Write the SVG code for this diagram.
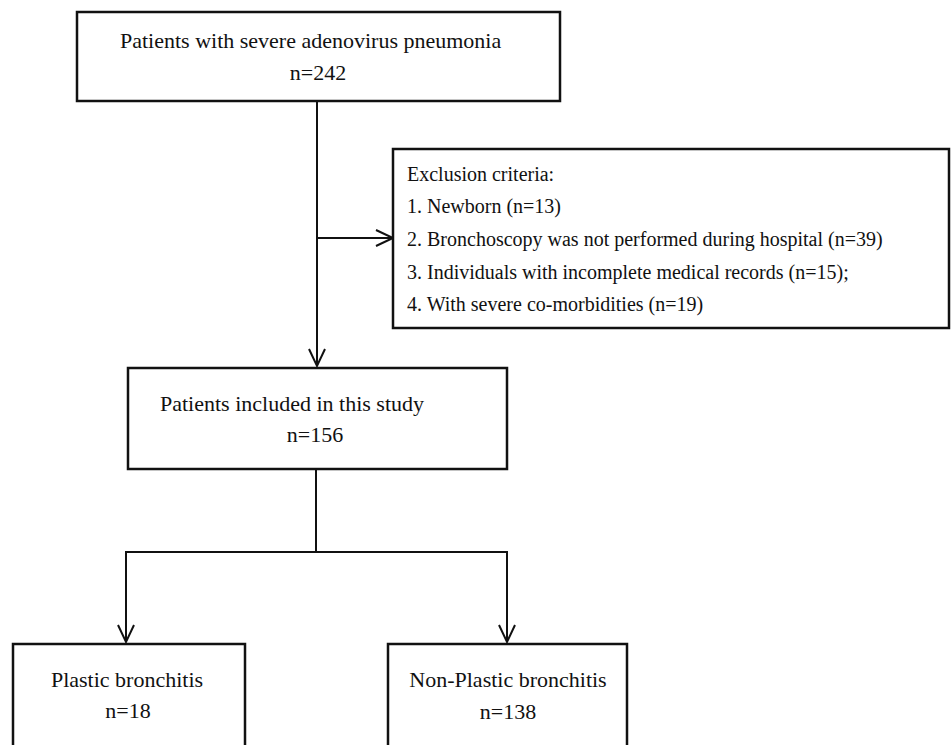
<svg xmlns="http://www.w3.org/2000/svg" width="951" height="745" viewBox="0 0 951 745">
<style>
.box{fill:#fff;stroke:#111;stroke-width:2.5}
.ln{fill:none;stroke:#111;stroke-width:2}
.ah{fill:none;stroke:#111;stroke-width:2;stroke-linejoin:miter}
text{font-family:"Liberation Serif","Times New Roman",serif;font-size:20px;fill:#111}
.c{text-anchor:middle}
.L{font-size:22px}
</style>
<rect width="951" height="745" fill="#fff"/>
<g id="connectors">
<path class="ln" d="M317,101 V364"/>
<path class="ah" d="M309,349 L317,366 L325,349"/>
<path class="ln" d="M317,238 H391"/>
<path class="ah" d="M376,230 L393,238 L376,246"/>
<path class="ln" d="M316,469 V552"/>
<path class="ln" d="M126,552 H508"/>
<path class="ln" d="M126,551 V641"/>
<path class="ah" d="M118,625 L126,642 L134,625"/>
<path class="ln" d="M507,551 V641"/>
<path class="ah" d="M499,625 L507,642 L515,625"/>
</g>
<g id="n1">
<rect class="box" x="77" y="12" width="483" height="89"/>
<text x="120" y="48" class="L">Patients with severe adenovirus pneumonia</text>
<text x="318" y="80" class="c L">n=242</text>
</g>
<g id="n2">
<rect class="box" x="393" y="149" width="556" height="179"/>
<text x="407" y="181">Exclusion criteria:</text>
<text x="407" y="213">1. Newborn (n=13)</text>
<text x="407" y="246">2. Bronchoscopy was not performed during hospital (n=39)</text>
<text x="407" y="279">3. Individuals with incomplete medical records (n=15);</text>
<text x="407" y="311">4. With severe co-morbidities (n=19)</text>
</g>
<g id="n3">
<rect class="box" x="128" y="368" width="379" height="101"/>
<text x="160" y="411" class="L">Patients included in this study</text>
<text x="315" y="442" class="c L">n=156</text>
</g>
<g id="n4">
<rect class="box" x="13" y="644" width="232" height="110"/>
<text x="127" y="687" class="c L">Plastic bronchitis</text>
<text x="128" y="718" class="c L">n=18</text>
</g>
<g id="n5">
<rect class="box" x="388" y="644" width="239" height="110"/>
<text x="508" y="687" class="c L">Non-Plastic bronchitis</text>
<text x="508" y="719" class="c L">n=138</text>
</g>
</svg>
